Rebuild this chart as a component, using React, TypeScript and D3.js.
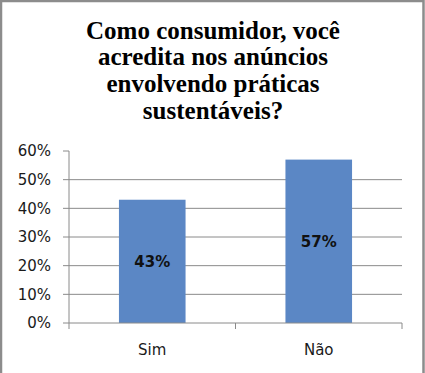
import React from 'react';
import * as d3 from 'd3';

const titleLines = ['Como consumidor, você', 'acredita nos anúncios', 'envolvendo práticas', 'sustentáveis?'];
const categories = ['Sim', 'Não'];
const values = [0.43, 0.57];
const yTicks = [0, 0.1, 0.2, 0.3, 0.4, 0.5, 0.6];

const W = 425;
const H = 373;
const plot = { left: 69, right: 402, top: 151, bottom: 323 };

const App = () => {
  const x = d3.scaleBand().domain(categories).range([plot.left, plot.right]).paddingInner(0.6).paddingOuter(0.3);
  const band = d3.scaleBand().domain(categories).range([plot.left, plot.right]);
  const y = d3.scaleLinear().domain([0, 0.6]).range([plot.bottom, plot.top]);
  const pct = d3.format('.0%');
  const grid = '#8a8a8a';

  return (
    <svg width={W} height={H} style={{ position: 'absolute', left: 0, top: 0 }}>
      <rect x={0} y={0} width={W} height={H} fill="#fff" />
      {/* frame: left, top, right only */}
      <path d={`M1,${H} V1 H${W - 1.5} V${H}`} fill="none" stroke="#8c8c8c" strokeWidth={2.5} />

      {titleLines.map((t, i) => (
        <text key={i} x={213} y={38.5 + i * 26.7} textAnchor="middle"
          style={{ font: 'bold 25px "Liberation Serif", serif' }} fill="#000">{t}</text>
      ))}

      {/* gridlines and y ticks */}
      {yTicks.map((t) => (
        <g key={t}>
          {t > 0 && t < 0.6 && (
            <line x1={plot.left} x2={plot.right} y1={y(t)} y2={y(t)} stroke={grid} strokeWidth={1} />
          )}
          <line x1={plot.left - 6} x2={plot.left} y1={y(t)} y2={y(t)} stroke={grid} strokeWidth={1} />
          <text x={51} y={y(t)} dy="0.36em" textAnchor="end"
            style={{ font: '15px "DejaVu Sans", sans-serif' }} fill="#1a1a1a">{pct(t)}</text>
        </g>
      ))}
      <line x1={plot.left} x2={plot.left} y1={plot.top} y2={plot.bottom} stroke={grid} />

      {/* bars */}
      {categories.map((c, i) => (
        <g key={c}>
          <rect x={x(c)} y={y(values[i])} width={x.bandwidth()} height={plot.bottom - y(values[i])} fill="#5b87c5" />
          <text x={x(c)! + x.bandwidth() / 2} y={(y(values[i]) + plot.bottom) / 2} dy="0.36em" textAnchor="middle"
            style={{ font: 'bold 15px "DejaVu Sans", sans-serif' }} fill="#111">{pct(values[i])}</text>
        </g>
      ))}

      {/* x axis */}
      <line x1={plot.left} x2={plot.right} y1={plot.bottom} y2={plot.bottom} stroke={grid} />
      {[...categories.map((c) => band(c)!), plot.right].map((v, i) => (
        <line key={i} x1={v} x2={v} y1={plot.bottom} y2={plot.bottom + 6} stroke={grid} />
      ))}
      {categories.map((c) => (
        <text key={c} x={band(c)! + band.bandwidth() / 2} y={350} dy="0.36em" textAnchor="middle"
          style={{ font: '15px "DejaVu Sans", sans-serif' }} fill="#1a1a1a">{c}</text>
      ))}
    </svg>
  );
};

export default App;
